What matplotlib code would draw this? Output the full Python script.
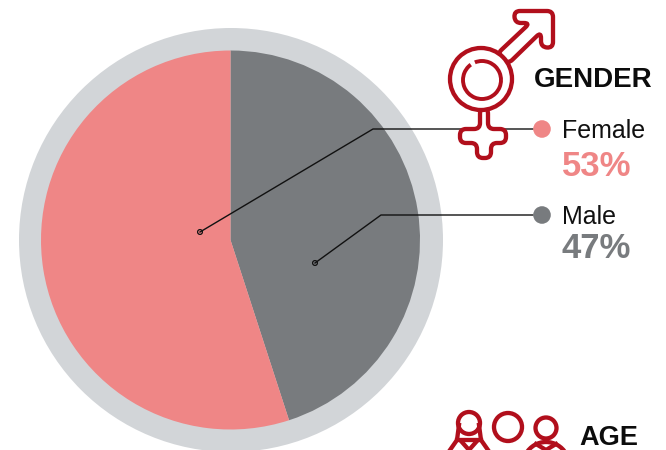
import matplotlib
matplotlib.use("Agg")
import matplotlib.pyplot as plt
from matplotlib.patches import Circle, PathPatch, Arc
from matplotlib.path import Path
import numpy as np

# data
categories = ["Male", "Female"]
drawn_shares = [45, 55]          # wedge sizes as they appear in the picture
printed_labels = ["47%", "53%"]  # percentages as printed

PINK = "#ef8686"
GREY = "#787b7e"
RING = "#d2d5d8"
RED = "#b10f1c"
W, H = 666, 450

fig = plt.figure(figsize=(W / 100, H / 100), dpi=100)
ax = fig.add_axes([0, 0, 1, 1])


def Y(y):
    return H - y


def rounded(points, r):
    verts, codes = [], []
    n = len(points)
    for i in range(n):
        p0 = np.array(points[i - 1], float)
        p1 = np.array(points[i], float)
        p2 = np.array(points[(i + 1) % n], float)
        a = p1 + (p0 - p1) / np.linalg.norm(p0 - p1) * min(r, np.linalg.norm(p0 - p1) / 2)
        b = p1 + (p2 - p1) / np.linalg.norm(p2 - p1) * min(r, np.linalg.norm(p2 - p1) / 2)
        verts += [a, p1, b]
        codes += [Path.MOVETO if i == 0 else Path.LINETO, Path.CURVE3, Path.CURVE3]
    verts.append(verts[0])
    codes.append(Path.CLOSEPOLY)
    return Path([(v[0], Y(v[1])) for v in verts], codes)


# pie
ax.add_patch(Circle((231, Y(240)), 212, fc=RING, ec="none", zorder=0))
ax.pie(drawn_shares, colors=[GREY, PINK], startangle=90, counterclock=False,
       center=(230.5, Y(240)), radius=189.5, wedgeprops={"linewidth": 0})
ax.set_xlim(0, W)
ax.set_ylim(0, H)
ax.set_aspect("equal")
ax.axis("off")

# leader lines
ax.plot([200, 373, 533], [Y(232), Y(129), Y(129)], color="#111111", lw=1.0, zorder=3)
ax.plot([315, 381, 533], [Y(263), Y(215), Y(215)], color="#111111", lw=1.0, zorder=3)
for x, y in [(200, 232), (315, 263)]:
    ax.add_patch(Circle((x, Y(y)), 2.4, fc="none", ec="#111111", lw=0.9, zorder=4))
ax.add_patch(Circle((542, Y(129)), 8.8, fc=PINK, ec="none", zorder=4))
ax.add_patch(Circle((542, Y(215)), 8.8, fc=GREY, ec="none", zorder=4))

# gender icon
lw_icon = 3.1
arrow = [(497, 54), (530, 23), (515, 23), (514, 11), (553, 11), (553, 48), (541, 47), (541, 32), (508, 64)]
ax.add_patch(PathPatch(rounded(arrow, 6), fc="white", ec=RED, lw=lw_icon, zorder=5, joinstyle="round"))
cross = [(480, 108), (480, 129), (460, 129), (460, 143), (477, 143), (477, 158),
         (491, 158), (491, 143), (506, 143), (506, 129), (488, 129), (488, 108)]
ax.add_patch(PathPatch(rounded(cross, 6), fc="white", ec=RED, lw=lw_icon, zorder=5, joinstyle="round"))
ax.add_patch(Circle((481, Y(79)), 31, fc="white", ec=RED, lw=lw_icon, zorder=6))
ax.add_patch(Arc((482, Y(80)), 38, 38, theta1=0, theta2=360, ec=RED, lw=lw_icon - 0.3, zorder=7))
ax.add_patch(Arc((482, Y(80)), 39, 39, theta1=112, theta2=126, ec="white", lw=lw_icon + 1.5, zorder=8))

# age icon (cut off by the lower edge)
ax.add_patch(Circle((469, Y(423)), 11, fc="white", ec=RED, lw=lw_icon, zorder=5))
ax.plot([459, 457, 450], [Y(425), Y(440), Y(450)], color=RED, lw=lw_icon, zorder=5)
ax.plot([479, 481, 488], [Y(425), Y(440), Y(450)], color=RED, lw=lw_icon, zorder=5)
ax.plot([457, 481], [Y(440), Y(440)], color=RED, lw=lw_icon, zorder=5)
ax.plot([461, 469, 477], [Y(441), Y(450), Y(441)], color=RED, lw=lw_icon, zorder=5)
ax.add_patch(Circle((508, Y(427)), 14, fc="white", ec=RED, lw=lw_icon, zorder=5))
ax.add_patch(Circle((546, Y(428)), 10.5, fc="white", ec=RED, lw=lw_icon, zorder=5))
ax.add_patch(Arc((546, Y(465)), 46, 46, theta1=30, theta2=150, ec=RED, lw=lw_icon, zorder=5))
ax.plot([536, 546, 556], [Y(444), Y(450), Y(444)], color=RED, lw=lw_icon, zorder=5)

# text
ax.text(534, Y(87), "GENDER", family="Liberation Sans", weight="bold", fontsize=20, color="#0c0c0c",
        ha="left", va="baseline", zorder=9)
ax.text(579, Y(445), "AGE", family="Liberation Sans", weight="bold", fontsize=19.5, color="#0c0c0c",
        ha="left", va="baseline", zorder=9)
ax.text(562, Y(138), categories[1], family="Liberation Sans", fontsize=18, color="#111111", ha="left", va="baseline", zorder=9)
ax.text(562, Y(224), categories[0], family="Liberation Sans", fontsize=18, color="#111111", ha="left", va="baseline", zorder=9)
ax.text(562, Y(176), printed_labels[1], family="Liberation Sans", weight="bold", fontsize=25, color=PINK,
        ha="left", va="baseline", zorder=9)
ax.text(561, Y(258), printed_labels[0], family="Liberation Sans", weight="bold", fontsize=25, color=GREY,
        ha="left", va="baseline", zorder=9)

fig.savefig("out.png", dpi=100, facecolor="white")
